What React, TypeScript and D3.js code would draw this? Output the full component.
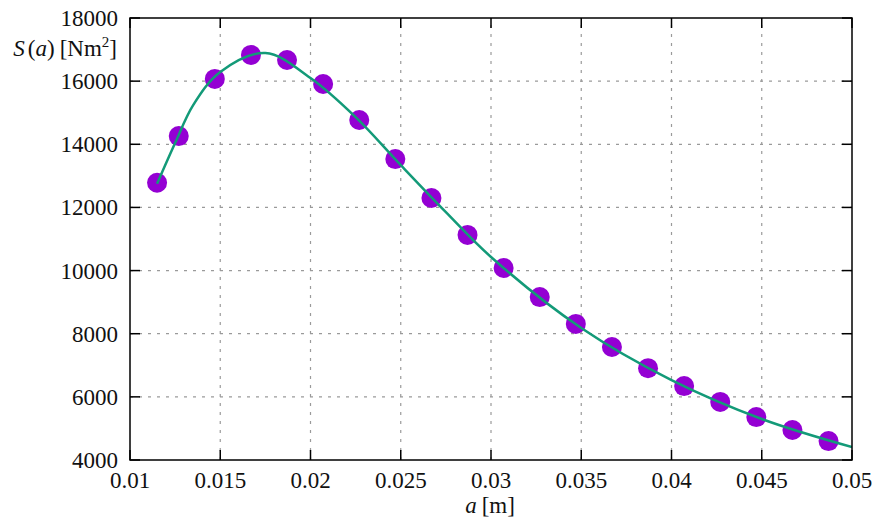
import * as d3 from 'd3'

// measured samples: a [m] and S(a) [Nm^2]
const SAMPLE_A = [
  0.0115, 0.0127, 0.0147, 0.0167, 0.0187, 0.0207, 0.0227, 0.0247, 0.0267, 0.0287,
  0.0307, 0.0327, 0.0347, 0.0367, 0.0387, 0.0407, 0.0427, 0.0447, 0.0467, 0.0487,
]
const SAMPLE_S = [
  12780, 14260, 16070, 16830, 16670, 15910, 14770, 13530, 12300, 11130,
  10080, 9160, 8310, 7580, 6910, 6340, 5840, 5360, 4950, 4600,
]

// fitted curve
const FIT_A = [0.0115, 0.0125, 0.0135, 0.015, 0.0175, 0.02, 0.0225, 0.025, 0.0275, 0.03, 0.035, 0.04, 0.045, 0.05]
const FIT_S = [12750, 14040, 15240, 16290, 16890, 16100, 14860, 13340, 11850, 10430, 8180, 6530, 5300, 4410]

const X_TICKS = [0.01, 0.015, 0.02, 0.025, 0.03, 0.035, 0.04, 0.045, 0.05]
const Y_TICKS = [4000, 6000, 8000, 10000, 12000, 14000, 16000, 18000]

const W = 872
const H = 520
const M = { left: 130, right: 20, top: 18, bottom: 60 }
const FONT = "'Liberation Serif', 'Times New Roman', 'DejaVu Serif', serif"
const TICK = 10

export default function App() {
  const x = d3.scaleLinear().domain([0.01, 0.05]).range([M.left, W - M.right])
  const y = d3.scaleLinear().domain([4000, 18000]).range([H - M.bottom, M.top])
  const [x0, x1] = x.range()
  const [y0, y1] = y.range()

  const fit = FIT_A.map((a, i) => [a, FIT_S[i]] as [number, number])
  const line = d3.line<[number, number]>()
    .x((d) => x(d[0]))
    .y((d) => y(d[1]))
    .curve(d3.curveCatmullRom.alpha(0.5))

  const fmtX = (v: number) => String(+v.toFixed(3))

  return (
    <div style={{ position: 'absolute', left: 0, top: 0 }}>
      <svg width={W} height={H} style={{ display: 'block', background: '#fff', fontFamily: FONT }}>
        <defs>
          <clipPath id="plot">
            <rect x={x0} y={y1} width={x1 - x0} height={y0 - y1} />
          </clipPath>
        </defs>

        {/* grid */}
        {X_TICKS.slice(1, -1).map((t) => (
          <line key={'gx' + t} x1={x(t)} x2={x(t)} y1={y0} y2={y1}
            stroke="#9a9a9a" strokeWidth={1.2} strokeDasharray="3,6" />
        ))}
        {Y_TICKS.slice(1, -1).map((t) => (
          <line key={'gy' + t} x1={x0} x2={x1} y1={y(t)} y2={y(t)}
            stroke="#9a9a9a" strokeWidth={1.2} strokeDasharray="3,6" />
        ))}

        {/* inward ticks on all sides */}
        {X_TICKS.map((t) => (
          <g key={'tx' + t}>
            <line x1={x(t)} x2={x(t)} y1={y0} y2={y0 - TICK} stroke="#000" strokeWidth={1.5} />
            <line x1={x(t)} x2={x(t)} y1={y1} y2={y1 + TICK} stroke="#000" strokeWidth={1.5} />
            <text x={x(t)} y={y0 + 28} textAnchor="middle" fontSize={23} fill="#111">{fmtX(t)}</text>
          </g>
        ))}
        {Y_TICKS.map((t) => (
          <g key={'ty' + t}>
            <line x1={x0} x2={x0 + TICK} y1={y(t)} y2={y(t)} stroke="#000" strokeWidth={1.5} />
            <line x1={x1} x2={x1 - TICK} y1={y(t)} y2={y(t)} stroke="#000" strokeWidth={1.5} />
            <text x={x0 - 12} y={y(t) + 8} textAnchor="end" fontSize={23} fill="#111">{t}</text>
          </g>
        ))}

        {/* samples */}
        <g clipPath="url(#plot)">
          {SAMPLE_A.map((a, i) => (
            <circle key={'p' + i} cx={x(a)} cy={y(SAMPLE_S[i])} r={10} fill="#9400d3" />
          ))}
          <path d={line(fit) ?? ''} fill="none" stroke="#139a78" strokeWidth={2.5} />
        </g>

        {/* frame */}
        <rect x={x0} y={y1} width={x1 - x0} height={y0 - y1} fill="none" stroke="#000" strokeWidth={1.5} />

        {/* axis titles */}
        <text x={117} y={56} textAnchor="end" fontSize={23} fill="#111">
          <tspan fontStyle="italic">S</tspan>
          <tspan dx={3}>(</tspan>
          <tspan fontStyle="italic">a</tspan>
          <tspan>)</tspan>
          <tspan dx={5}>[Nm</tspan>
          <tspan fontSize={15} dy={-9}>2</tspan>
          <tspan dy={9}>]</tspan>
        </text>
        <text x={490} y={513} textAnchor="middle" fontSize={23} fill="#111">
          <tspan fontStyle="italic">a</tspan>
          <tspan dx={5}>[m]</tspan>
        </text>
      </svg>
    </div>
  )
}
